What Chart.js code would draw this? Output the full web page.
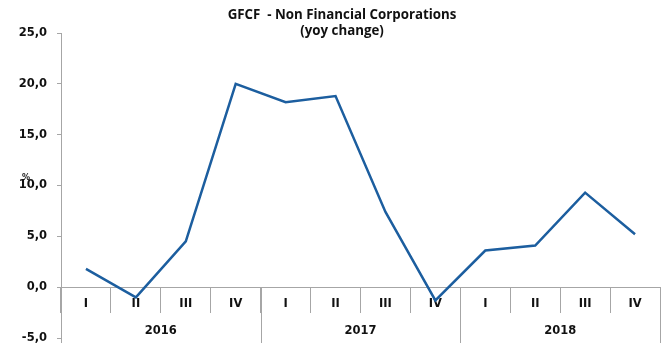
<!DOCTYPE html>
<html>
<head>
<meta charset="utf-8">
<script src="https://cdn.jsdelivr.net/npm/chart.js@4/dist/chart.umd.min.js"></script>
<style>
  html, body { margin: 0; padding: 0; background: #ffffff; }
  #wrap { width: 664px; height: 343px; position: relative; }
</style>
</head>
<body>
<div id="wrap"><canvas id="chart" width="664" height="343"></canvas></div>
<script>
// Quarterly GFCF of non-financial corporations, year-on-year change (%)
const quarters = ['I', 'II', 'III', 'IV'];
const years = ['2016', '2017', '2018'];
const yoyChange = [1.8, -1.0, 4.5, 20.0, 18.2, 18.8, 7.4, -1.3, 3.6, 4.1, 9.3, 5.2];
const yTicks = [-5, 0, 5, 10, 15, 20, 25];
const titleLines = ['GFCF  - Non Financial Corporations', '(yoy change)'];
const unitLabel = '%';

const labels = years.flatMap(() => quarters);
const AXIS_GREY = '#a6a6a6';
const TICK_FONT = { family: 'DejaVu Sans', size: 11.5, weight: 'bold' };

// Title, unit label, year separators and year labels under the quarter row
const decorations = {
  id: 'decorations',
  afterDraw(chart) {
    const { ctx, scales: { x, y }, chartArea } = chart;
    const half = (x.getPixelForValue(1) - x.getPixelForValue(0)) / 2;
    const zeroY = y.getPixelForValue(0);
    const bottom = chart.height;

    ctx.save();
    ctx.strokeStyle = AXIS_GREY;
    ctx.lineWidth = 1;

    // value axis runs down to the bottom edge
    ctx.beginPath();
    ctx.moveTo(Math.round(chartArea.left) + 0.5, chartArea.bottom);
    ctx.lineTo(Math.round(chartArea.left) + 0.5, bottom);
    ctx.stroke();

    // year group separators and labels
    ctx.fillStyle = '#111111';
    ctx.font = 'bold 11.5px "DejaVu Sans"';
    ctx.textAlign = 'center';
    ctx.textBaseline = 'middle';
    years.forEach((yr, k) => {
      const first = k * quarters.length;
      const last = first + quarters.length - 1;
      const xl = Math.round(x.getPixelForValue(first) - half) + 0.5;
      ctx.beginPath();
      ctx.moveTo(xl, zeroY);
      ctx.lineTo(xl, bottom);
      ctx.stroke();
      if (k === years.length - 1) {
        const xr = Math.round(x.getPixelForValue(last) + half) + 0.5;
        ctx.beginPath();
        ctx.moveTo(xr, zeroY);
        ctx.lineTo(xr, bottom);
        ctx.stroke();
      }
      const cx = (x.getPixelForValue(first) + x.getPixelForValue(last)) / 2;
      ctx.fillText(yr, cx, 331);
    });

    // unit label above the 10,0 tick
    ctx.font = 'bold 8px "DejaVu Sans"';
    ctx.fillText(unitLabel, 26, y.getPixelForValue(10) - 8);

    // chart title
    ctx.font = 'bold 13.3px "Open Sans"';
    ctx.fillText(titleLines[0], 342, 15);
    ctx.fillText(titleLines[1], 342, 31);
    ctx.restore();
  }
};

new Chart(document.getElementById('chart'), {
  type: 'line',
  data: {
    labels,
    datasets: [{
      data: yoyChange,
      borderColor: '#1c5e9f',
      borderWidth: 2.5,
      pointRadius: 0,
      tension: 0,
      fill: false
    }]
  },
  options: {
    responsive: false,
    animation: false,
    layout: { padding: { top: 33, left: 0, right: 4, bottom: 5 } },
    plugins: {
      legend: { display: false },
      title: { display: false },
      tooltip: { enabled: false }
    },
    scales: {
      x: {
        type: 'category',
        position: { y: 0 },
        offset: true,
        grid: {
          offset: true,
          drawOnChartArea: false,
          drawTicks: true,
          tickLength: 25,
          color: AXIS_GREY,
          lineWidth: 1
        },
        border: { display: true, color: AXIS_GREY, width: 1 },
        ticks: {
          color: '#111111',
          font: TICK_FONT,
          padding: -15,
          maxRotation: 0,
          autoSkip: false
        }
      },
      y: {
        min: -5,
        max: 25,
        afterBuildTicks(scale) {
          scale.ticks = yTicks.map(v => ({ value: v }));
        },
        afterFit(scale) {
          scale.width = 61;
          scale.paddingTop = 0;
          scale.paddingBottom = 0;
        },
        grid: {
          drawOnChartArea: false,
          drawTicks: true,
          tickLength: 4,
          color: AXIS_GREY,
          lineWidth: 1
        },
        border: { display: true, color: AXIS_GREY, width: 1 },
        ticks: {
          color: '#111111',
          font: TICK_FONT,
          padding: 10,
          callback: v => v.toFixed(1).replace('.', ',')
        }
      }
    }
  },
  plugins: [decorations]
});
</script>
</body>
</html>
